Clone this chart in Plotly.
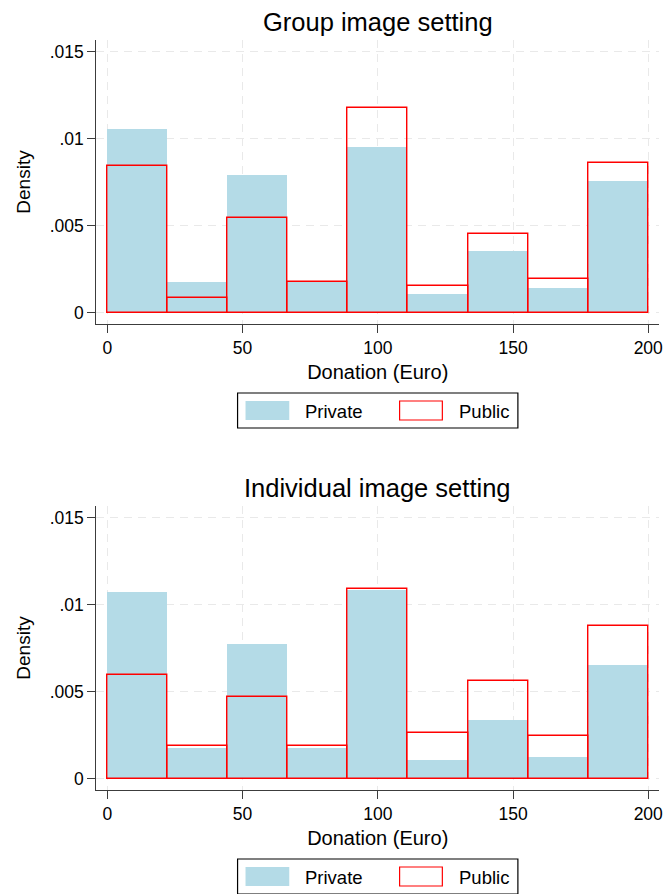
import plotly.graph_objects as go

# ---- data (histogram densities, 9 bins from 0 to 200 Euro) ----
bin_edges = [0, 200/9, 400/9, 600/9, 800/9, 1000/9, 1200/9, 1400/9, 1600/9, 200]
group_private = [0.01055, 0.00175, 0.00790, 0.00175, 0.00951, 0.00105, 0.00353, 0.00140, 0.00756]
group_public = [0.00840, 0.00085, 0.00541, 0.00173, 0.01174, 0.00153, 0.00453, 0.00190, 0.00857]
indiv_private = [0.01070, 0.00175, 0.00771, 0.00175, 0.01086, 0.00104, 0.00334, 0.00121, 0.00650]
indiv_public = [0.00595, 0.00188, 0.00470, 0.00188, 0.01090, 0.00259, 0.00560, 0.00242, 0.00877]
panel_titles = ["Group image setting", "Individual image setting"]
y_tickvals = [0, 0.005, 0.01, 0.015]
y_ticktext = ["0", ".005", ".01", ".015"]
x_tickvals = [0, 50, 100, 150, 200]
legend_labels = ["Private", "Public"]

W, H = 670, 894
FONT = "Liberation Sans, Arial, Helvetica, sans-serif"
BLUE = "rgb(180,219,231)"
RED = "rgb(255,0,0)"
AXC = "#3c3c3c"
GRID = "#e9e9e9"

lefts = bin_edges[:-1]
widths = [bin_edges[i + 1] - bin_edges[i] for i in range(len(lefts))]

def px(x):
    return x / W

def py(y):
    return 1 - y / H

fig = go.Figure()
panels = [(group_private, group_public), (indiv_private, indiv_public)]
OFF = 466
for k, (priv, pub) in enumerate(panels):
    xa = "x" if k == 0 else "x2"
    ya = "y" if k == 0 else "y2"
    fig.add_trace(go.Bar(x=lefts, y=priv, width=widths, offset=0, xaxis=xa, yaxis=ya,
                         marker=dict(color=BLUE, line=dict(width=0)),
                         name=legend_labels[0], showlegend=False))
    fig.add_trace(go.Bar(x=lefts, y=pub, width=widths, offset=0, xaxis=xa, yaxis=ya,
                         marker=dict(color="rgba(0,0,0,0)", line=dict(color=RED, width=1.4)),
                         name=legend_labels[1], showlegend=False))

annotations = []
shapes = []
for k in range(2):
    o = OFF * k
    # panel title
    annotations.append(dict(text=panel_titles[k], x=px(380), y=py(22 + o), xref="paper", yref="paper",
                            xanchor="center", yanchor="middle", showarrow=False,
                            font=dict(size=25.5, color="black", family=FONT)))
    # legend box
    shapes.append(dict(type="rect", xref="paper", yref="paper", x0=px(239), x1=px(521),
                       y0=py(393 + o), y1=py(428 + o), line=dict(color="black", width=1.2),
                       fillcolor="white"))
    shapes.append(dict(type="rect", xref="paper", yref="paper", x0=px(247), x1=px(291),
                       y0=py(401 + o), y1=py(420 + o), line=dict(width=0), fillcolor=BLUE))
    shapes.append(dict(type="rect", xref="paper", yref="paper", x0=px(402), x1=px(445),
                       y0=py(401 + o), y1=py(420 + o), line=dict(color=RED, width=1.2),
                       fillcolor="rgba(0,0,0,0)"))
    annotations.append(dict(text=legend_labels[0], x=px(305), y=py(411 + o), xref="paper", yref="paper",
                            xanchor="left", yanchor="middle", showarrow=False,
                            font=dict(size=18.5, color="black", family=FONT)))
    annotations.append(dict(text=legend_labels[1], x=px(460), y=py(411 + o), xref="paper", yref="paper",
                            xanchor="left", yanchor="middle", showarrow=False,
                            font=dict(size=18.5, color="black", family=FONT)))

xaxis_common = dict(range=[-4.05, 204.0], tickvals=x_tickvals, ticks="outside", ticklen=8,
                    tickcolor=AXC, tickwidth=1.2, showline=True, linecolor=AXC, linewidth=1.3,
                    showgrid=True, gridcolor=GRID, griddash="8px,6px", gridwidth=1.2, zeroline=False,
                    tickfont=dict(size=17.5, color="black", family=FONT),
                    title=dict(text="Donation (Euro)", font=dict(size=20, color="black", family=FONT), standoff=7))
yaxis_common = dict(range=[-0.00066, 0.01567], tickvals=y_tickvals, ticktext=y_ticktext, ticks="outside",
                    ticklen=8, tickcolor=AXC, tickwidth=1.2, showline=True, linecolor=AXC, linewidth=1.3,
                    showgrid=True, gridcolor=GRID, griddash="8px,6px", gridwidth=1.2, zeroline=False,
                    tickfont=dict(size=17.5, color="black", family=FONT),
                    title=dict(text="Density", font=dict(size=19, color="black", family=FONT), standoff=14))

fig.update_layout(
    width=W, height=H, margin=dict(l=0, r=0, t=0, b=0),
    paper_bgcolor="white", plot_bgcolor="white", barmode="overlay", bargap=0,
    font=dict(family=FONT, color="black"),
    xaxis=dict(domain=[px(97), px(663)], anchor="y", **xaxis_common),
    yaxis=dict(domain=[py(324), py(40)], anchor="x", **yaxis_common),
    xaxis2=dict(domain=[px(97), px(663)], anchor="y2", **xaxis_common),
    yaxis2=dict(domain=[py(324 + OFF), py(40 + OFF)], anchor="x2", **yaxis_common),
    annotations=annotations, shapes=shapes, showlegend=False,
)

fig.write_html("out.html", config={"displayModeBar": False},
               post_script="document.body.style.margin='0';document.body.style.overflow='hidden';")
